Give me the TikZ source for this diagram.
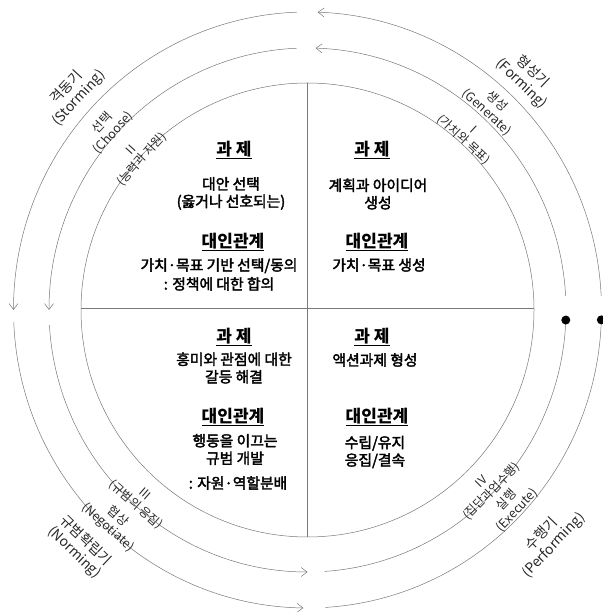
\documentclass[tikz,border=0pt]{standalone}
\usepackage{fontspec}
\newfontfamily\kr{Noto Sans CJK KR}
\newfontfamily\krm{Noto Sans CJK KR}[FakeBold=2.5]
\usetikzlibrary{arrows.meta}
\definecolor{ringgray}{RGB}{120,120,120}
\definecolor{txtgray}{RGB}{40,40,40}
\newcommand{\hul}[1]{\setbox0\hbox{#1}\leavevmode\rlap{\raisebox{-3.2pt}{\rule{\wd0}{0.9pt}}}\box0}
\begin{document}
\begin{tikzpicture}[x=1pt,y=1pt,
  ring/.style={draw=ringgray, line width=0.5pt},
  arr/.style={ring, -{Straight Barb[length=6pt,width=9pt]}},
  cross/.style={draw=ringgray, line width=0.6pt},
  enddot/.style={circle, fill=black, inner sep=0pt, minimum size=9pt},
  head/.style={font=\kr\bfseries\fontsize{17}{19}\selectfont, inner sep=0pt},
  body/.style={font=\krm\fontsize{14.8}{17.5}\selectfont, align=center, inner sep=0pt},
  stage/.style={font=\kr\fontsize{14}{16}\selectfont, align=center, inner sep=0pt, text=txtgray},
  verb/.style={font=\kr\fontsize{12.5}{14.5}\selectfont, align=center, inner sep=0pt, text=txtgray},
  roman/.style={font=\kr\fontsize{12}{14}\selectfont, align=center, inner sep=0pt, text=txtgray},
]
\useasboundingbox (0,0) rectangle (602,612);
\coordinate (c) at (307.5,302);

% inner circle and cross
\draw[ring] (c) ellipse[x radius=226.5, y radius=227];
\coordinate (L) at (81,304);
\coordinate (R) at (534,304);
\coordinate (T) at (307.5,529);
\coordinate (B) at (307.5,75);
\draw[cross] (L) -- (R);
\draw[cross] (T) -- (B);

% outer ring
\draw[arr] ([shift={(2.7:294 and 298)}]c) arc[start angle=2.7, end angle=88, x radius=294, y radius=298];
\draw[arr] ([shift={(92:294 and 298)}]c) arc[start angle=92, end angle=180, x radius=294, y radius=298];
\draw[arr] ([shift={(182.3:294 and 298)}]c) arc[start angle=182.3, end angle=269.2, x radius=294, y radius=298];
\draw[ring] ([shift={(273.5:294 and 298)}]c) arc[start angle=273.5, end angle=358.1, x radius=294, y radius=298];
\node[enddot] (dO) at ([shift={(358.1:294 and 298)}]c) {};

% middle ring
\draw[arr] ([shift={(3.1:258.5 and 262)}]c) arc[start angle=3.1, end angle=88.2, x radius=258.5, y radius=262];
\draw[arr] ([shift={(92.4:258.5 and 262)}]c) arc[start angle=92.4, end angle=180, x radius=258.5, y radius=262];
\draw[arr] ([shift={(183.3:258.5 and 262)}]c) arc[start angle=183.3, end angle=270, x radius=258.5, y radius=262];
\draw[ring] ([shift={(273.8:258.5 and 262)}]c) arc[start angle=273.8, end angle=357.8, x radius=258.5, y radius=262];
\node[enddot] (dM) at ([shift={(357.8:258.5 and 262)}]c) {};

% ring labels: forming
\node[stage, rotate=-43.6] (fS) at (527,534) {형성기\\(Forming)};
\node[verb, rotate=-42.5] (fV) at (492,505) {생성\\(Generate)};
\node[roman, rotate=-42.8] (fR) at (468,477) {I\\(가치와 목표)};
% storming
\node[stage, rotate=47.3] (sS) at (73,519) {격동기\\(Storming)};
\node[verb, rotate=47.7] (sV) at (108,484) {선택\\(Choose)};
\node[roman, rotate=47.8] (sR) at (137,457) {II\\(능력과 자원)};
% norming
\node[stage, rotate=-43.6] (nS) at (80,65) {규범확립기\\(Norming)};
\node[verb, rotate=-42.3] (nV) at (113,90) {협상\\(Negotiate)};
\node[roman, rotate=-41.2] (nR) at (140,112) {III\\(규범의 응집)};
% performing
\node[stage, rotate=46.2] (pS) at (548,72) {수행기\\(Performing)};
\node[verb, rotate=46.3] (pV) at (512,107) {실행\\(Execute)};
\node[roman, rotate=45.3] (pR) at (487,125) {IV\\(집단과업수행)};

% quadrant texts
\node[head] (h1) at (234,462) {\hul{과 제}};
\node[body] (b1) at (231,418.5) {대안 선택\\(옳거나 선호되는)};
\node[head] (h2) at (233,370) {\hul{대인관계}};
\node[body, font=\krm\fontsize{14.8}{19}\selectfont] (b2) at (219,337.5) {가치·목표 기반 선택/동의\\: 정책에 대한 합의};

\node[head] (h3) at (372,462) {\hul{과 제}};
\node[body] (b3) at (378,418) {계획과 아이디어\\생성};
\node[head] (h4) at (377,370) {\hul{대인관계}};
\node[body] (b4) at (379,347) {가치·목표 생성};

\node[head] (h5) at (234,275) {\hul{과 제}};
\node[body] (b5) at (234,244) {흥미와 관점에 대한\\갈등 해결};
\node[head] (h6) at (233,195) {\hul{대인관계}};
\node[body] (b6) at (235,162.5) {행동을 이끄는\\규범 개발};
\node[body] (b7) at (238,129) {: 자원·역할분배};

\node[head] (h7) at (372,275) {\hul{과 제}};
\node[body] (b8) at (375,252) {액션과제 형성};
\node[head] (h8) at (377,195) {\hul{대인관계}};
\node[body] (b9) at (375,160) {수립/유지\\응집/결속};
\end{tikzpicture}
\end{document}
